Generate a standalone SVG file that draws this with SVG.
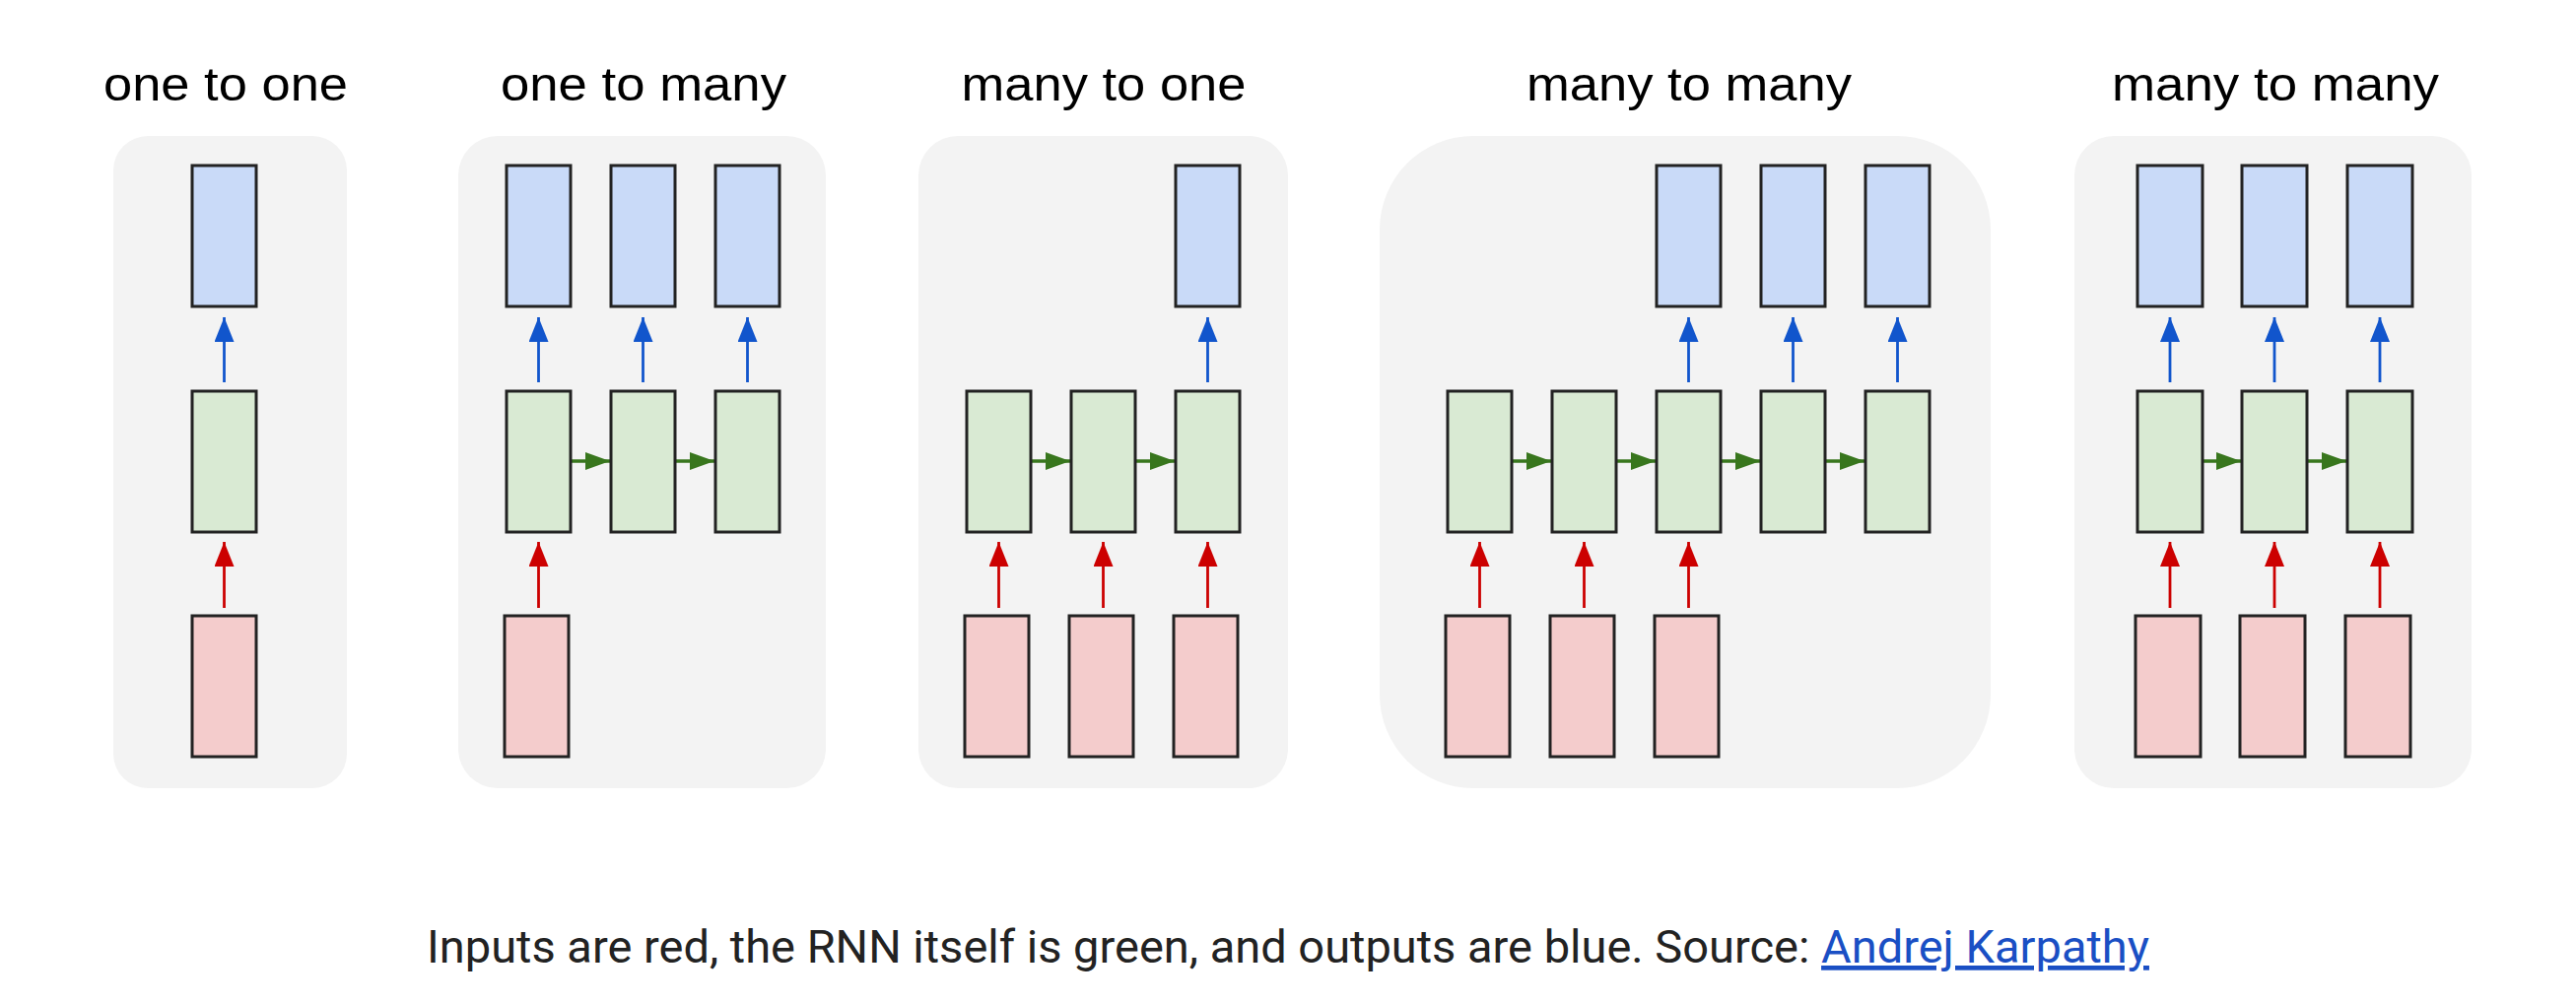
<svg xmlns="http://www.w3.org/2000/svg" width="2614" height="1018" viewBox="0 0 2614 1018">
<style>
.panel{fill:#f3f3f3}
.box{stroke:#222;stroke-width:3}
.out{fill:#c9daf8}
.rnn{fill:#d9ead3}
.in{fill:#f4cccc}
.title{font-family:"Liberation Sans",Arial,sans-serif;font-size:49px;fill:#000;text-anchor:middle}
.cap{font-family:Roboto,"Liberation Sans",sans-serif;font-size:47px;fill:#222}
.link{fill:#1a4fc4;text-decoration:underline}
.ab{stroke:#1155cc;stroke-width:2.8;fill:none;marker-end:url(#mb)}
.ar{stroke:#cc0000;stroke-width:2.8;fill:none;marker-end:url(#mr)}
.ag{stroke:#38761d;stroke-width:3.4;fill:none;marker-end:url(#mg)}
</style>
<defs>
<marker id="mb" viewBox="0 0 25 20" refX="25" refY="10" markerWidth="25" markerHeight="20" markerUnits="userSpaceOnUse" orient="auto"><path d="M0,0L25,10L0,20z" fill="#1155cc"/></marker>
<marker id="mr" viewBox="0 0 25 20" refX="25" refY="10" markerWidth="25" markerHeight="20" markerUnits="userSpaceOnUse" orient="auto"><path d="M0,0L25,10L0,20z" fill="#cc0000"/></marker>
<marker id="mg" viewBox="0 0 25 18" refX="25" refY="9" markerWidth="25" markerHeight="18" markerUnits="userSpaceOnUse" orient="auto"><path d="M0,0L25,9L0,18z" fill="#38761d"/></marker>
</defs>
<rect width="2614" height="1018" fill="#fff"/>

<g id="titles">
<text class="title" x="229" y="102" textLength="248" lengthAdjust="spacingAndGlyphs">one to one</text>
<text class="title" x="653" y="102" textLength="290" lengthAdjust="spacingAndGlyphs">one to many</text>
<text class="title" x="1120" y="102" textLength="289" lengthAdjust="spacingAndGlyphs">many to one</text>
<text class="title" x="1714" y="102" textLength="330" lengthAdjust="spacingAndGlyphs">many to many</text>
<text class="title" x="2309" y="102" textLength="332" lengthAdjust="spacingAndGlyphs">many to many</text>
</g>

<g id="panels">
<rect id="panel-one-to-one" class="panel" x="115" y="138" width="237" height="662" rx="35"/>
<rect id="panel-one-to-many" class="panel" x="465" y="138" width="373" height="662" rx="40"/>
<rect id="panel-many-to-one" class="panel" x="932" y="138" width="375" height="662" rx="40"/>
<rect id="panel-many-to-many-a" class="panel" x="1400" y="138" width="620" height="662" rx="95"/>
<rect id="panel-many-to-many-b" class="panel" x="2105" y="138" width="403" height="662" rx="40"/>
</g>

<g id="connectors">
<line class="ab" x1="227.5" y1="388" x2="227.5" y2="322"/>
<line class="ar" x1="227.5" y1="617" x2="227.5" y2="550"/>
<line class="ab" x1="546.5" y1="388" x2="546.5" y2="322"/>
<line class="ab" x1="652.5" y1="388" x2="652.5" y2="322"/>
<line class="ab" x1="758.5" y1="388" x2="758.5" y2="322"/>
<line class="ar" x1="546.5" y1="617" x2="546.5" y2="550"/>
<line class="ag" x1="580" y1="468" x2="619" y2="468"/>
<line class="ag" x1="686" y1="468" x2="725" y2="468"/>
<line class="ab" x1="1225.5" y1="388" x2="1225.5" y2="322"/>
<line class="ar" x1="1013.5" y1="617" x2="1013.5" y2="550"/>
<line class="ar" x1="1119.5" y1="617" x2="1119.5" y2="550"/>
<line class="ar" x1="1225.5" y1="617" x2="1225.5" y2="550"/>
<line class="ag" x1="1047" y1="468" x2="1086" y2="468"/>
<line class="ag" x1="1153" y1="468" x2="1192" y2="468"/>
<line class="ab" x1="1713.5" y1="388" x2="1713.5" y2="322"/>
<line class="ab" x1="1819.5" y1="388" x2="1819.5" y2="322"/>
<line class="ab" x1="1925.5" y1="388" x2="1925.5" y2="322"/>
<line class="ar" x1="1501.5" y1="617" x2="1501.5" y2="550"/>
<line class="ar" x1="1607.5" y1="617" x2="1607.5" y2="550"/>
<line class="ar" x1="1713.5" y1="617" x2="1713.5" y2="550"/>
<line class="ag" x1="1535" y1="468" x2="1574" y2="468"/>
<line class="ag" x1="1641" y1="468" x2="1680" y2="468"/>
<line class="ag" x1="1747" y1="468" x2="1786" y2="468"/>
<line class="ag" x1="1853" y1="468" x2="1892" y2="468"/>
<line class="ab" x1="2202" y1="388" x2="2202" y2="322"/>
<line class="ab" x1="2308" y1="388" x2="2308" y2="322"/>
<line class="ab" x1="2415" y1="388" x2="2415" y2="322"/>
<line class="ar" x1="2202" y1="617" x2="2202" y2="550"/>
<line class="ar" x1="2308" y1="617" x2="2308" y2="550"/>
<line class="ar" x1="2415" y1="617" x2="2415" y2="550"/>
<line class="ag" x1="2236" y1="468" x2="2274" y2="468"/>
<line class="ag" x1="2342" y1="468" x2="2381" y2="468"/>
</g>

<g id="p1-out"><rect class="box out" x="195" y="168" width="65" height="143"/></g>
<g id="p1-rnn"><rect class="box rnn" x="195" y="397" width="65" height="143"/></g>
<g id="p1-in"><rect class="box in" x="195" y="625" width="65" height="143"/></g>

<g id="p2-out1"><rect class="box out" x="514" y="168" width="65" height="143"/></g>
<g id="p2-out2"><rect class="box out" x="620" y="168" width="65" height="143"/></g>
<g id="p2-out3"><rect class="box out" x="726" y="168" width="65" height="143"/></g>
<g id="p2-rnn1"><rect class="box rnn" x="514" y="397" width="65" height="143"/></g>
<g id="p2-rnn2"><rect class="box rnn" x="620" y="397" width="65" height="143"/></g>
<g id="p2-rnn3"><rect class="box rnn" x="726" y="397" width="65" height="143"/></g>
<g id="p2-in1"><rect class="box in" x="512" y="625" width="65" height="143"/></g>

<g id="p3-out1"><rect class="box out" x="1193" y="168" width="65" height="143"/></g>
<g id="p3-rnn1"><rect class="box rnn" x="981" y="397" width="65" height="143"/></g>
<g id="p3-rnn2"><rect class="box rnn" x="1087" y="397" width="65" height="143"/></g>
<g id="p3-rnn3"><rect class="box rnn" x="1193" y="397" width="65" height="143"/></g>
<g id="p3-in1"><rect class="box in" x="979" y="625" width="65" height="143"/></g>
<g id="p3-in2"><rect class="box in" x="1085" y="625" width="65" height="143"/></g>
<g id="p3-in3"><rect class="box in" x="1191" y="625" width="65" height="143"/></g>

<g id="p4-out1"><rect class="box out" x="1681" y="168" width="65" height="143"/></g>
<g id="p4-out2"><rect class="box out" x="1787" y="168" width="65" height="143"/></g>
<g id="p4-out3"><rect class="box out" x="1893" y="168" width="65" height="143"/></g>
<g id="p4-rnn1"><rect class="box rnn" x="1469" y="397" width="65" height="143"/></g>
<g id="p4-rnn2"><rect class="box rnn" x="1575" y="397" width="65" height="143"/></g>
<g id="p4-rnn3"><rect class="box rnn" x="1681" y="397" width="65" height="143"/></g>
<g id="p4-rnn4"><rect class="box rnn" x="1787" y="397" width="65" height="143"/></g>
<g id="p4-rnn5"><rect class="box rnn" x="1893" y="397" width="65" height="143"/></g>
<g id="p4-in1"><rect class="box in" x="1467" y="625" width="65" height="143"/></g>
<g id="p4-in2"><rect class="box in" x="1573" y="625" width="65" height="143"/></g>
<g id="p4-in3"><rect class="box in" x="1679" y="625" width="65" height="143"/></g>

<g id="p5-out1"><rect class="box out" x="2169" y="168" width="66" height="143"/></g>
<g id="p5-out2"><rect class="box out" x="2275" y="168" width="66" height="143"/></g>
<g id="p5-out3"><rect class="box out" x="2382" y="168" width="66" height="143"/></g>
<g id="p5-rnn1"><rect class="box rnn" x="2169" y="397" width="66" height="143"/></g>
<g id="p5-rnn2"><rect class="box rnn" x="2275" y="397" width="66" height="143"/></g>
<g id="p5-rnn3"><rect class="box rnn" x="2382" y="397" width="66" height="143"/></g>
<g id="p5-in1"><rect class="box in" x="2167" y="625" width="66" height="143"/></g>
<g id="p5-in2"><rect class="box in" x="2273" y="625" width="66" height="143"/></g>
<g id="p5-in3"><rect class="box in" x="2380" y="625" width="66" height="143"/></g>

<g id="caption">
<text class="cap" x="433" y="977">Inputs are red, the RNN itself is green, and outputs are blue. Source: <tspan class="link">Andrej Karpathy</tspan></text>
</g>
</svg>
